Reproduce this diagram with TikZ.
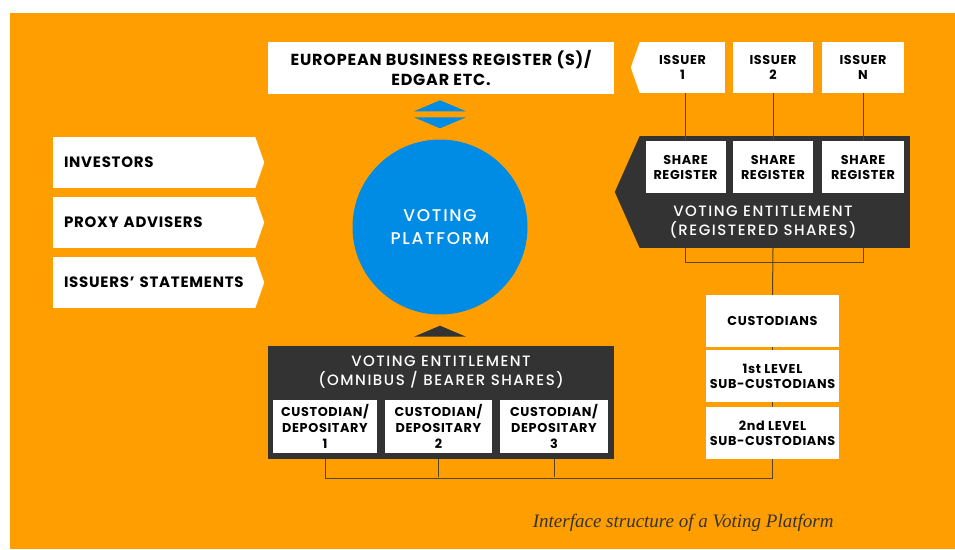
\documentclass[tikz,border=0pt]{standalone}
\usepackage{fontspec}
\setmainfont{Poppins}
\newfontfamily\lblfont{Poppins}[LetterSpace=5]
\newfontfamily\medfont{Poppins Medium}[LetterSpace=10]
\newfontfamily\capfont{Liberation Serif}
\usepackage{tikz}
\usetikzlibrary{positioning, calc}
\definecolor{vpOrange}{RGB}{255,158,0}
\definecolor{vpBlue}{RGB}{0,139,228}
\definecolor{vpDark}{RGB}{51,51,51}
\definecolor{vpLine}{RGB}{85,68,38}
\newcommand{\BigLbl}{\lblfont\bfseries\fontsize{15}{20}\selectfont}
\newcommand{\SmallLbl}{\lblfont\bfseries\fontsize{12.8}{15}\selectfont}

\begin{document}
\begin{tikzpicture}[x=1pt, y=-1pt,
  wbox/.style={fill=white, inner sep=0pt, align=center, font=\SmallLbl},
  lbox/.style={fill=white, inner ysep=0pt, inner xsep=11pt, minimum width=202, minimum height=51, text width=180, align=left, font=\BigLbl},
  dbox/.style={fill=vpDark, inner sep=0pt},
  dtext/.style={text=white, align=center, font=\medfont\fontsize{15}{19.5}\selectfont},
  link/.style={draw=vpLine, line width=1pt}]

\fill[white] (0,0) rectangle (955,549);
\fill[vpOrange] (10,13) rectangle (955,549);
\useasboundingbox (0,0) rectangle (955,549);

\draw(441,68) node[wbox, font=\lblfont\bfseries\fontsize{16}{20}\selectfont, minimum width=346, minimum height=52] (ebr) {EUROPEAN BUSINESS REGISTER (S)/\\EDGAR ETC.};
\draw(440,227) node[circle, fill=vpBlue, minimum size=175, text=white, align=center, font=\medfont\fontsize{17}{23}\selectfont] (vp) {VOTING\\PLATFORM};
\fill[vpBlue] ($(vp.north)+(-26,-28)$) -- ($(vp.north)+(0,-39)$) -- ($(vp.north)+(26,-28)$) -- cycle;
\fill[vpBlue] ($(vp.north)+(-26,-22)$) -- ($(vp.north)+(0,-11)$) -- ($(vp.north)+(26,-22)$) -- cycle;

\draw(154,162.5) node[lbox] (inv) {INVESTORS};
\draw(154,222.5) node[lbox] (pa) {PROXY ADVISERS};
\draw(154,282.5) node[lbox] (ist) {ISSUERS’~STATEMENTS};
\foreach \n in {inv, pa, ist}
  \fill[white] (\n.north east) -- ($(\n.east)+(9,0)$) -- (\n.south east) -- cycle;

\draw(682.5,67.5) node[wbox, minimum width=85, minimum height=51] (iss1) {ISSUER\\1};
\draw(773,67.5) node[wbox, minimum width=80, minimum height=51] (iss2) {ISSUER\\2};
\draw(863,67.5) node[wbox, minimum width=82, minimum height=51] (issN) {ISSUER\\N};
\fill[white] (iss1.north west) -- ($(iss1.west)+(-9,0)$) -- (iss1.south west) -- cycle;

\draw(775,192) node[dbox, minimum width=270, minimum height=112] (vreg) {};
\fill[vpDark] (vreg.north west) -- ($(vreg.west)+(-25,0)$) -- (vreg.south west) -- cycle;
\draw(685.5,167) node[wbox, minimum width=80, minimum height=52] (sr1) {SHARE\\REGISTER};
\draw(773,167) node[wbox, minimum width=80, minimum height=52] (sr2) {SHARE\\REGISTER};
\draw(863,167) node[wbox, minimum width=82, minimum height=52] (sr3) {SHARE\\REGISTER};
\draw(763,222) node[dtext] (vregt) {VOTING ENTITLEMENT\\(REGISTERED SHARES)};

\draw[link] (sr1.north) -- (sr1.north |- iss1.south);
\draw[link] (sr2.north) -- (sr2.north |- iss2.south);
\draw[link] (sr3.north) -- (sr3.north |- issN.south);
\draw[link] (sr1.south |- vreg.south) -- ++(0,14) -| (sr3.south |- vreg.south);

\draw(772.5,321) node[wbox, minimum width=133, minimum height=52] (cust) {CUSTODIANS};
\draw(772.5,376) node[wbox, minimum width=133, minimum height=52] (sub1) {1st LEVEL\\SUB-CUSTODIANS};
\draw(772.5,433) node[wbox, minimum width=133, minimum height=52] (sub2) {2nd LEVEL\\SUB-CUSTODIANS};
\draw[link] (sr2.south |- vreg.south) -- (cust.north);
\draw[link] (cust.south) -- (sub1.north);
\draw[link] (sub1.south) -- (sub2.north);

\draw(441,402.5) node[dbox, minimum width=346, minimum height=113] (vomn) {};
\fill[vpDark] ($(vp.south)+(-26,22)$) -- ($(vp.south)+(0,11)$) -- ($(vp.south)+(26,22)$) -- cycle;
\draw(441,372) node[dtext] (vomnt) {VOTING ENTITLEMENT\\(OMNIBUS / BEARER SHARES)};
\draw(325,426.5) node[wbox, minimum width=104, minimum height=53, font=\lblfont\bfseries\fontsize{12.8}{16}\selectfont] (cd1) {CUSTODIAN/\\DEPOSITARY\\1};
\draw(438.5,426.5) node[wbox, minimum width=107, minimum height=53, font=\lblfont\bfseries\fontsize{12.8}{16}\selectfont] (cd2) {CUSTODIAN/\\DEPOSITARY\\2};
\draw(554,426.5) node[wbox, minimum width=108, minimum height=53, font=\lblfont\bfseries\fontsize{12.8}{16}\selectfont] (cd3) {CUSTODIAN/\\DEPOSITARY\\3};

\draw[link] (sub2.south) -- ++(0,19) -| (cd1.south |- vomn.south);
\draw[link] (cd2.south |- vomn.south) -- ++(0,18);
\draw[link] (cd3.south |- vomn.south) -- ++(0,18);

\draw(837,527) node[anchor=base east, text=vpDark, font=\capfont\itshape\fontsize{19}{21}\selectfont] (cap) {Interface structure of a Voting Platform};

\end{tikzpicture}
\end{document}
